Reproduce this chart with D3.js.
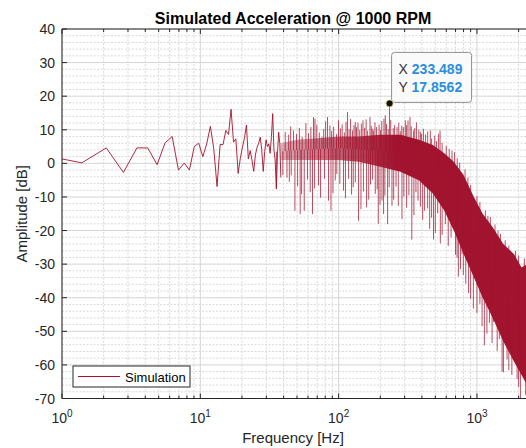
<!DOCTYPE html>
<html>
<head>
<meta charset="utf-8">
<script src="https://cdn.jsdelivr.net/npm/d3@7"></script>
<style>
  body { margin: 0; background: #fff; }
  svg { display: block; font-family: "Liberation Sans", Arial, Helvetica, sans-serif; }
</style>
</head>
<body>
<svg id="chart" width="526" height="448"></svg>
<script>
// low frequency bins (Hz) and amplitude (dB), read point by point
const lowFreq = [0.70, 1.39, 2.09, 2.78, 3.48, 4.17, 4.87, 5.56, 6.26, 6.95,
  7.65, 8.34, 9.04, 9.73, 10.43, 11.12, 11.82, 12.51, 13.21, 13.90,
  14.60, 15.29, 15.99, 16.68, 17.38, 18.07, 18.77, 19.46, 20.16, 20.85,
  21.55, 22.24, 22.94, 23.63, 24.33, 25.02, 25.72, 26.41, 27.11, 27.80,
  28.50, 29.19, 29.89, 30.58, 31.28, 31.97, 32.67, 33.36, 34.06, 34.75,
  35.45, 36.14, 36.84, 37.53, 38.23];
const lowAmp = [2.6, 0.15, 4.6, -2.7, 4.6, 4.6, -0.4, 6.1, 8.0, -2.0,
  0.1, -2.0, 5.0, 6.0, 2.0, 5.8, 11.0, 4.3, -6.9, 5.6,
  5.6, 9.8, 8.6, 16.1, 6.3, 7.3, -3.0, 1.5, 4.8, 7.5,
  11.4, 1.3, 3.8, 1.0, -2.4, 2.5, 4.8, 6.0, 7.8, 4.0,
  -2.4, 3.5, 7.0, 5.0, 5.8, 3.0, 8.0, 14.8, 4.0, 1.0,
  -7.6, 3.0, 9.3, 6.0, -4.2];

// dense part of the spectrum: envelope of the band
const bandFreq = [38, 50, 70, 100, 140, 200, 280, 380, 480, 580, 680, 800, 950, 1100, 1300, 1550, 1850, 2100, 2300];
const bandHigh = [6, 7, 7.5, 8, 8, 8.5, 8.5, 7, 5.5, 3, 0.5, -3.5, -10, -15, -19, -24, -27, -31, -30];
const bandLow  = [1, 1, 1, 1, 0.5, -1, -2.5, -5, -9, -14, -20, -27, -34, -40, -46, -53, -59, -63, -66];

// peaks sticking up out of the band
const peakFreq = [41.1, 43.5, 45, 47.2, 49.6, 52, 54.5, 58, 60.5, 63, 65.8, 67.4, 69.5, 72.5, 75.7, 78, 80.5, 83.1, 86.5, 89, 92, 96.5,
  99.8, 103, 106, 110, 113, 116, 119, 122, 126, 129, 131.9, 134.7, 138, 142, 146, 149.9, 154, 158, 162, 168.5, 172, 175, 178.9,
  183, 188, 196, 201, 205, 212.7, 217.4, 222, 228, 233.489, 238, 248, 254, 264.2, 272, 279, 286, 293.5,
  303.3, 310, 317.3, 328.1, 335, 348.3, 355, 365, 380, 390, 398, 410, 425, 440, 460, 470, 495, 510, 528, 541, 560,
  600, 630, 660, 689, 720, 750, 820, 860, 900, 1000, 1050, 1150, 1200, 1250, 1350, 1420, 1480, 1600, 1700, 1900, 2000, 2200];
const peakAmp = [9.3, 8.5, 11, 9.8, 8.8, 10.5, 7.9, 12, 9, 10.8, 13.8, 13.3, 11.5, 9.2, 7.8, 10.2, 12.5, 13.8, 11.3, 9.6, 10.9, 8.7,
  12.8, 10.4, 11.6, 9.2, 12.4, 15.3, 10.1, 13.2, 9.8, 11.4, 12.3, 10.8, 12.1, 9.9, 11.8, 12.8, 10.6, 13.1, 9.7, 13.8, 11.2, 10.3, 9.8,
  12.2, 10.8, 11.5, 9.9, 12.6, 13.3, 14.3, 11.7, 10.2, 17.8562, 12.9, 10.5, 11.4, 10.8, 12.0, 9.6, 11.2, 10.8,
  12.8, 11.4, 12.8, 13.8, 11.0, 9.8, 10.5, 12.2, 10.0, 9.4, 8.8, 10.3, 8.6, 9.5, 9.8, 7.4, 8.2, 6.6, 8.8, 9.8, 6.1,
  5.2, 4.3, 3.8, 3.3, 1.5, 0.2, -1.8, -4.2, -6.5, -9.8, -11.5, -14.0, -15.6, -16.0, -18.2, -20.1, -21.0, -22.9, -24.5, -26.1, -27.4, -28.3];

// dips reaching down out of the band
const dipFreq = [35.5, 39.5, 42.3, 44, 45.4, 48.3, 50.5, 52.7, 54, 56.4, 59.5, 62.3, 64.7, 67, 71.5, 74, 79, 84.5, 88, 91, 94.5, 97,
  102, 108.5, 112, 118, 124, 127.5, 132, 139.3, 145, 151, 159.2, 165, 170, 176, 184, 190, 193.4, 199, 205.7, 211.3, 216, 225.9,
  232, 243, 250, 260, 270, 287, 296, 310, 322, 338, 350, 362, 374.8, 390, 405, 418.4, 440, 455, 470, 485.3, 500, 520,
  543.5, 560, 590.6, 620, 650, 700, 717.8, 733.5, 760, 780, 797, 830, 870, 900, 941.9, 1000, 1050, 1088.7, 1131, 1180, 1230,
  1286, 1314, 1400, 1450, 1519, 1553, 1650, 1700, 1788, 1950, 2000, 2061, 2106, 2250];
const dipAmp = [-7.1, -3.5, -4.2, -5.5, -3.6, -14.1, -6.8, -15.1, -9.2, -14.1, -4.8, -8.6, -15.1, -7.5, -6.6, -10.2, -4.6, -11.1, -14.1, -8.9, -5.1, -3.2,
  -6.1, -8.1, -10.4, -4.6, -9.3, -7.1, -5.7, -17.1, -13.6, -8.4, -13.1, -10.8, -6.3, -4.9, -9.1, -7.7, -18, -12.3, -11.1, -15.1, -9.6, -18.1,
  -7.1, -12.6, -10.8, -6.9, -12.7, -16.6, -9.8, -13.2, -9.5, -22.7, -15.4, -8.6, -11.1, -12.9, -16.8, -14.1, -13.4, -19.5, -16.2, -22.7, -20.7, -14.9,
  -23.8, -21.3, -18.1, -24.6, -22.0, -27.2, -28.1, -33.7, -31.5, -27, -33.2, -35.8, -38.6, -40.3, -43.2, -44.5, -41.8, -48.5, -54.2, -50.7, -47.5,
  -53.5, -47.2, -55.8, -52.3, -62, -62.2, -58.4, -61.6, -63, -64.2, -66.5, -72, -61, -69.0];

const xTicks = [1, 10, 100, 1000];
const yTicks = [-70, -60, -50, -40, -30, -20, -10, 0, 10, 20, 30, 40];
const tipX = 233.489, tipY = 17.8562;

const lineColor = "#A2142F";
const axisColor = "#262626";

const svg = d3.select("#chart");
const plot = { left: 62, top: 29, bottom: 398.5, right: 527 };

const x = d3.scaleLog().domain([1, 2300]).range([plot.left, plot.right]);
const y = d3.scaleLinear().domain([-70, 40]).range([plot.bottom, plot.top]);

svg.append("rect").attr("width", 526).attr("height", 448).attr("fill", "#fff");

const defs = svg.append("defs");
defs.append("clipPath").attr("id", "plotClip")
  .append("rect")
  .attr("x", plot.left).attr("y", plot.top)
  .attr("width", plot.right - plot.left).attr("height", plot.bottom - plot.top);

// grid
const minorX = [];
[1, 10, 100, 1000].forEach(dec => d3.range(2, 10).forEach(m => { if (dec * m < 2300) minorX.push(dec * m); }));
const minorY = d3.range(-70, 40.1, 2).filter(v => v % 10 !== 0);

const grid = svg.append("g");
grid.selectAll(".gmy").data(minorY).enter().append("line")
  .attr("x1", plot.left).attr("x2", plot.right)
  .attr("y1", d => y(d)).attr("y2", d => y(d))
  .attr("stroke", "#d9d9d9").attr("stroke-width", 1).attr("stroke-dasharray", "2,1.5");
grid.selectAll(".gmx").data(minorX).enter().append("line")
  .attr("x1", d => x(d)).attr("x2", d => x(d))
  .attr("y1", plot.top).attr("y2", plot.bottom)
  .attr("stroke", "#d9d9d9").attr("stroke-width", 1).attr("stroke-dasharray", "2,1.5");
grid.selectAll(".gy").data(yTicks).enter().append("line")
  .attr("x1", plot.left).attr("x2", plot.right)
  .attr("y1", d => y(d)).attr("y2", d => y(d))
  .attr("stroke", "#d4d4d4").attr("stroke-width", 1);
grid.selectAll(".gx").data(xTicks).enter().append("line")
  .attr("x1", d => x(d)).attr("x2", d => x(d))
  .attr("y1", plot.top).attr("y2", plot.bottom)
  .attr("stroke", "#d4d4d4").attr("stroke-width", 1);

// data
const data = svg.append("g").attr("clip-path", "url(#plotClip)");

const grad = defs.append("linearGradient")
  .attr("id", "bandGrad").attr("gradientUnits", "userSpaceOnUse")
  .attr("x1", x(38)).attr("x2", x(260)).attr("y1", 0).attr("y2", 0);
grad.append("stop").attr("offset", 0).attr("stop-color", lineColor).attr("stop-opacity", 0.35);
grad.append("stop").attr("offset", 1).attr("stop-color", lineColor).attr("stop-opacity", 1);

const band = bandFreq.map((f, i) => ({ f: f, hi: bandHigh[i], lo: bandLow[i] }));
data.append("path")
  .datum(band)
  .attr("fill", "url(#bandGrad)")
  .attr("d", d3.area().x(d => x(d.f)).y0(d => y(d.lo)).y1(d => y(d.hi)));

// middle of the band, used as the foot of each spike
const bandMid = d3.scaleLog().domain(bandFreq).range(bandFreq.map((f, i) => (bandHigh[i] + bandLow[i]) / 2)).clamp(true);

const spikes = peakFreq.map((f, i) => ({ f: f, v: peakAmp[i] }))
  .concat(dipFreq.map((f, i) => ({ f: f, v: dipAmp[i] })));
data.selectAll(".spike").data(spikes).enter().append("line")
  .attr("x1", d => x(d.f)).attr("x2", d => x(d.f))
  .attr("y1", d => y(bandMid(d.f))).attr("y2", d => y(d.v))
  .attr("stroke", lineColor).attr("stroke-width", 1).attr("stroke-opacity", 0.75);

const low = lowFreq.map((f, i) => ({ f: f, v: lowAmp[i] }));
data.append("path")
  .datum(low)
  .attr("fill", "none")
  .attr("stroke", lineColor).attr("stroke-width", 1).attr("stroke-opacity", 0.9)
  .attr("stroke-linejoin", "round")
  .attr("d", d3.line().x(d => x(d.f)).y(d => y(d.v)));

// axes box
const axes = svg.append("g");
axes.append("line").attr("x1", plot.left).attr("x2", plot.right).attr("y1", plot.top).attr("y2", plot.top)
  .attr("stroke", axisColor);
axes.append("line").attr("x1", plot.left).attr("x2", plot.right).attr("y1", plot.bottom).attr("y2", plot.bottom)
  .attr("stroke", axisColor);
axes.append("line").attr("x1", plot.left).attr("x2", plot.left).attr("y1", plot.top).attr("y2", plot.bottom)
  .attr("stroke", axisColor);

// y ticks and labels
axes.selectAll(".yt").data(yTicks).enter().append("line")
  .attr("x1", plot.left).attr("x2", plot.left + 5)
  .attr("y1", d => y(d)).attr("y2", d => y(d))
  .attr("stroke", axisColor);
axes.selectAll(".yl").data(yTicks).enter().append("text")
  .attr("x", plot.left - 7).attr("y", d => y(d)).attr("dy", "0.36em")
  .attr("text-anchor", "end").attr("font-size", 14).attr("fill", axisColor)
  .text(d => d);

// x ticks top and bottom
[plot.bottom, plot.top].forEach(yy => {
  const dir = yy === plot.bottom ? -1 : 1;
  axes.selectAll(null).data(xTicks).enter().append("line")
    .attr("x1", d => x(d)).attr("x2", d => x(d))
    .attr("y1", yy).attr("y2", yy + dir * 5)
    .attr("stroke", axisColor);
  axes.selectAll(null).data(minorX).enter().append("line")
    .attr("x1", d => x(d)).attr("x2", d => x(d))
    .attr("y1", yy).attr("y2", yy + dir * 3)
    .attr("stroke", axisColor);
});

const xl = axes.selectAll(".xl").data(xTicks).enter().append("text")
  .attr("x", d => x(d)).attr("y", plot.bottom + 24)
  .attr("text-anchor", "middle").attr("font-size", 14).attr("fill", axisColor);
xl.append("tspan").text("10");
xl.append("tspan").attr("dy", -6).attr("font-size", 10).text(d => Math.round(Math.log10(d)));

// titles
svg.append("text")
  .attr("x", 293).attr("y", 24)
  .attr("text-anchor", "middle").attr("font-size", 16).attr("font-weight", "bold").attr("fill", "#000")
  .text("Simulated Acceleration @ 1000 RPM");
svg.append("text")
  .attr("x", 293).attr("y", 443)
  .attr("text-anchor", "middle").attr("font-size", 15).attr("fill", axisColor)
  .text("Frequency [Hz]");
svg.append("text")
  .attr("transform", "translate(27," + ((plot.top + plot.bottom) / 2) + ") rotate(-90)")
  .attr("text-anchor", "middle").attr("font-size", 15).attr("fill", axisColor)
  .text("Amplitude [dB]");

// legend
const leg = svg.append("g").attr("transform", "translate(73,366)");
leg.append("rect").attr("width", 117).attr("height", 21)
  .attr("fill", "#fff").attr("stroke", axisColor).attr("stroke-width", 1);
leg.append("line").attr("x1", 5).attr("x2", 47).attr("y1", 10.5).attr("y2", 10.5)
  .attr("stroke", lineColor).attr("stroke-width", 1);
leg.append("text").attr("x", 52).attr("y", 15.5)
  .attr("font-size", 13).attr("fill", "#000").text("Simulation");

// data tip
const tx = x(tipX), ty = y(tipY);
const tip = svg.append("g");
tip.append("rect")
  .attr("x", tx + 2).attr("y", ty - 51).attr("width", 80).attr("height", 50).attr("rx", 3)
  .attr("fill", "#fafafa").attr("stroke", "#8e8e8e").attr("stroke-width", 1);
[["X", "233.489", 74], ["Y", "17.8562", 92]].forEach(r => {
  const t = tip.append("text").attr("x", tx + 9).attr("y", r[2]).attr("font-size", 14);
  t.append("tspan").attr("fill", "#333").text(r[0] + " ");
  t.append("tspan").attr("fill", "#2c8fdb").attr("font-weight", "bold").text(r[1]);
});
tip.append("circle").attr("cx", tx).attr("cy", ty).attr("r", 3.5)
  .attr("fill", "#111").attr("stroke", "#d8d27a").attr("stroke-width", 0.8);
</script>
</body>
</html>
